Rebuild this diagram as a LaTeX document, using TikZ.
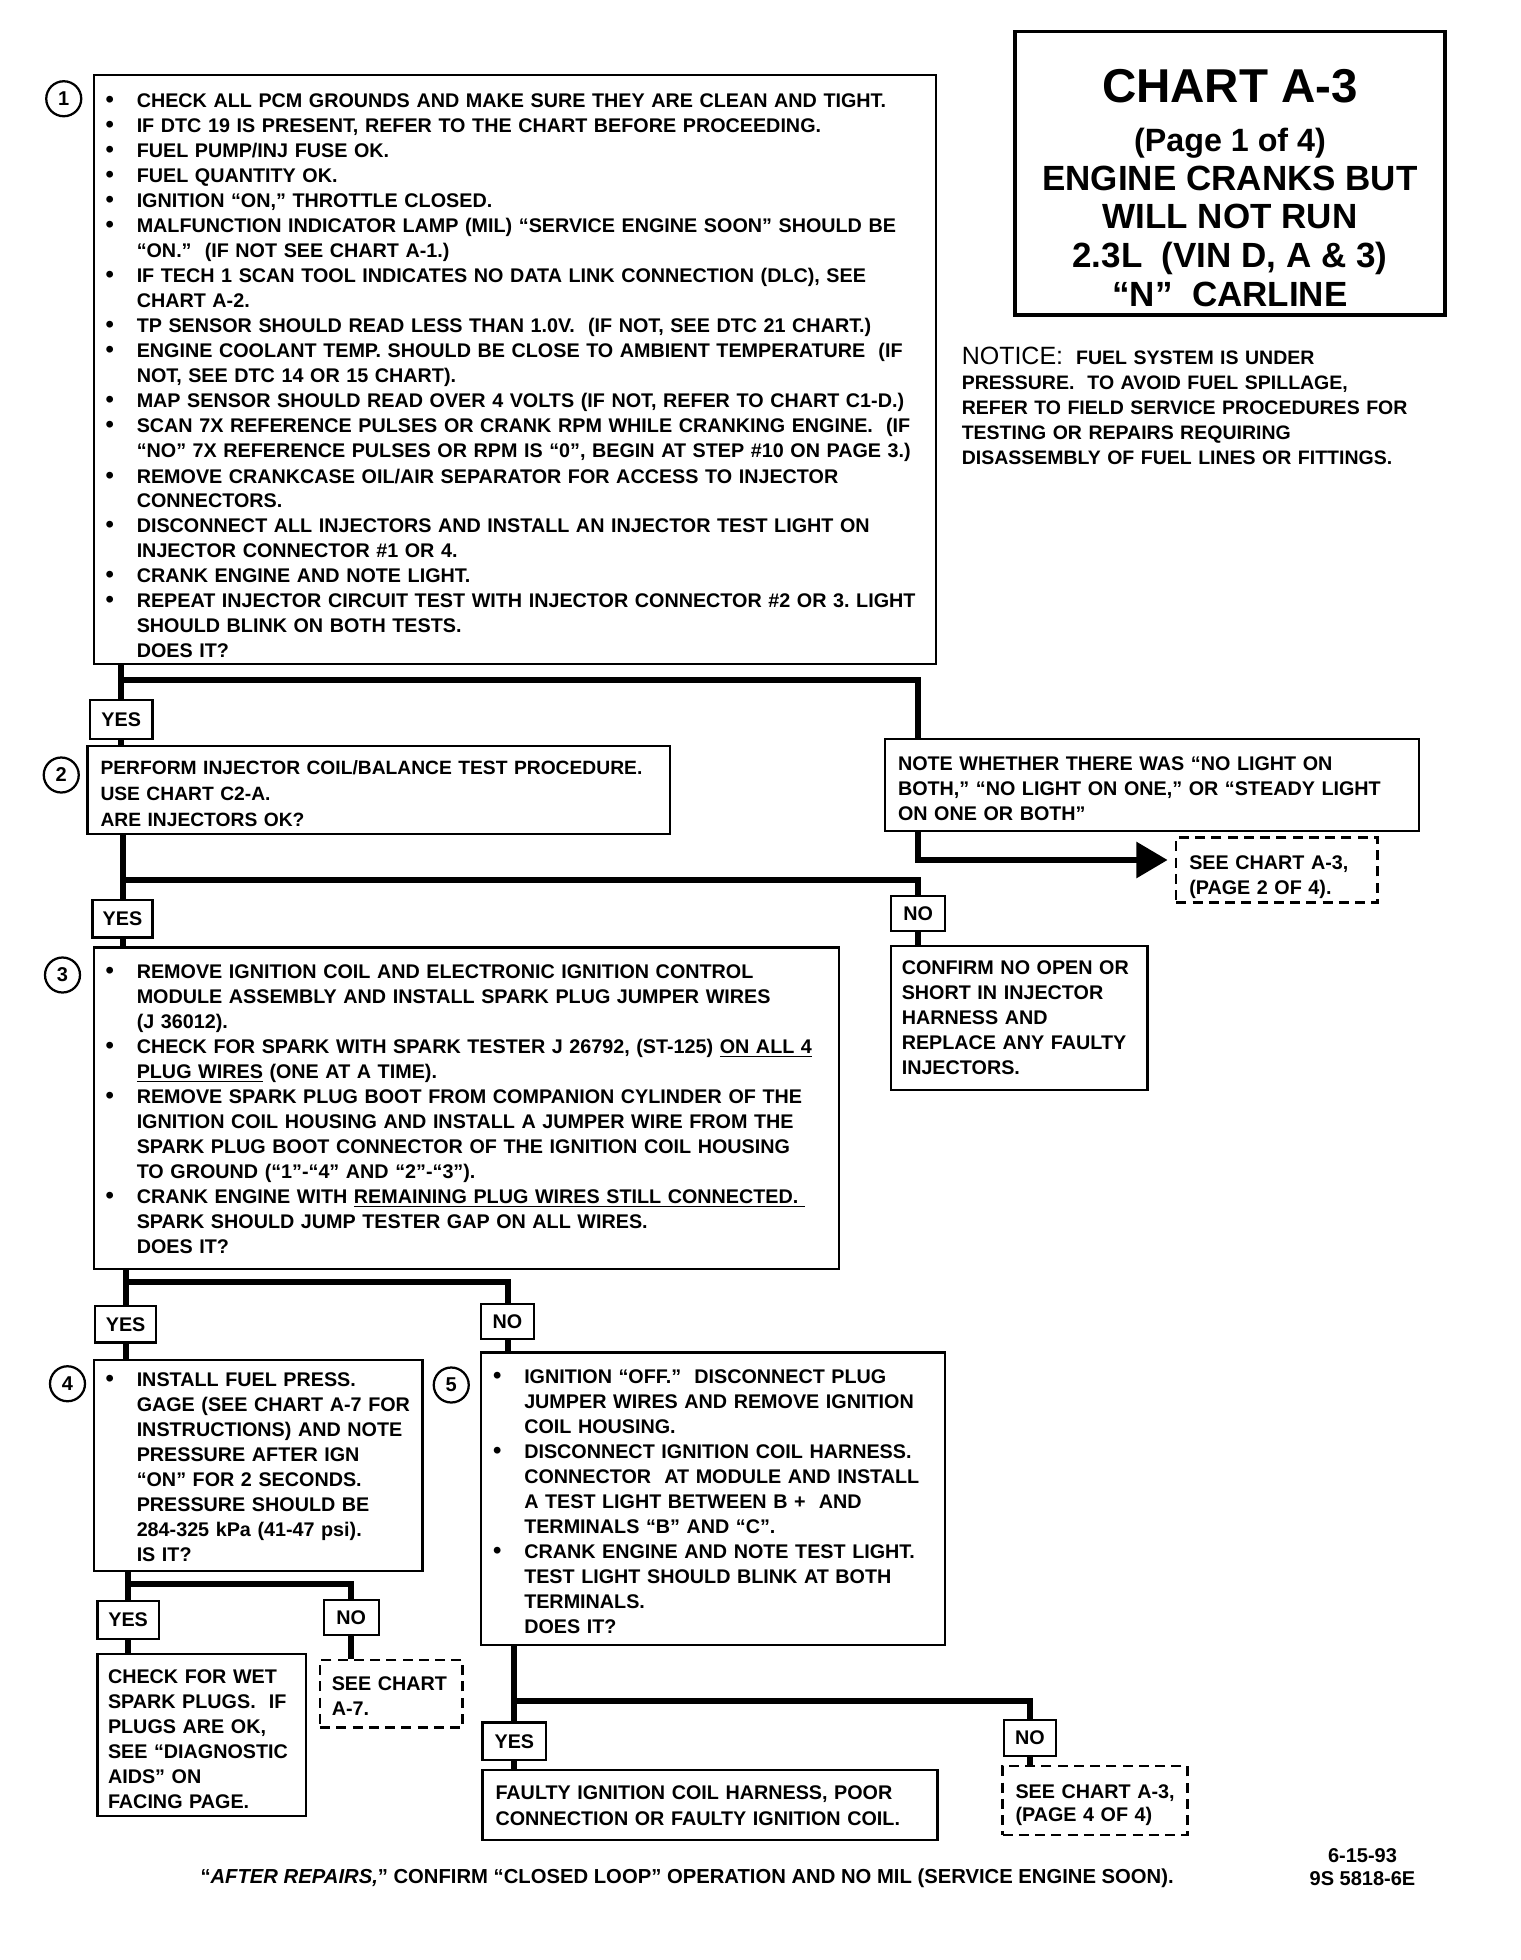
\documentclass[tikz,border=0pt]{standalone}
\usepackage{fontspec}
\setmainfont{Liberation Sans}
\usetikzlibrary{fit,arrows.meta,calc}
\newcommand{\bl}{\makebox[12.5pt][l]{\fontsize{9.5}{9.5}\selectfont\textbullet}}
\newcommand{\ct}{\hspace*{12.5pt}}
\newcommand{\fs}{\rule{0pt}{7pt}}
\frenchspacing
\begin{document}
\frenchspacing
\begin{tikzpicture}[x=0.5pt,y=-0.5pt,
  box/.style={draw, line width=0.9pt, inner sep=0pt},
  dbox/.style={draw, line width=0.9pt, inner sep=0pt, dash pattern=on 4pt off 2.5pt},
  lbl/.style={draw, line width=0.9pt, inner sep=0pt, font=\fontsize{7.9}{10}\selectfont\bfseries},
  txt/.style={anchor=north west, inner sep=0pt, text width=380pt, align=left, font=\fontsize{7.9}{10}\selectfont\bfseries},
  conn/.style={line width=2.4pt, line join=miter},
  num/.style={circle, draw, line width=0.9pt, minimum size=14pt, inner sep=0pt, font=\fontsize{8}{8}\selectfont\bfseries},
  ttl/.style={anchor=base, inner sep=0pt}]
\useasboundingbox (0,0) rectangle (1216,1568);

% ---------- boxes ----------
\node[box, fit={(75,60) (749,531)}] (b1) {};
\node[box, fit={(70,597) (536,667)}] (b2) {};
\node[box, fit={(708,591) (1135,665)}] (note) {};
\node[dbox, fit={(941,670) (1102,722)}] (see2) {};
\node[box, fit={(713,757) (918,872)}] (confirm) {};
\node[box, fit={(75,758) (671,1015)}] (b3) {};
\node[box, fit={(75,1088) (338,1257)}] (b4) {};
\node[box, fit={(385,1082) (756,1316)}] (b5) {};
\node[box, fit={(78,1323) (245,1453)}] (check) {};
\node[dbox, fit={(256,1328) (370,1382)}] (see7) {};
\node[box, fit={(386,1416) (750,1472)}] (faulty) {};
\node[dbox, fit={(802,1413) (950,1468)}] (see4) {};
\node[box, line width=1.3pt, fit={(812,25) (1156,252)}] (title) {};

% ---------- yes / no labels ----------
\node[lbl, minimum width=25pt, minimum height=15.5pt] (yes1) at (97,575.5) {YES};
\node[lbl, minimum width=24pt, minimum height=15pt] (yes2) at (98,735) {YES};
\node[lbl, minimum width=21.5pt, minimum height=14pt] (no1) at (734.5,731) {NO};
\node[lbl, minimum width=24.5pt, minimum height=14.5pt] (yes3) at (100.5,1059.5) {YES};
\node[lbl, minimum width=21pt, minimum height=14pt] (no2) at (406,1057) {NO};
\node[lbl, minimum width=24.5pt, minimum height=15pt] (yes4) at (102.5,1296) {YES};
\node[lbl, minimum width=22pt, minimum height=14pt] (no3) at (281,1294) {NO};
\node[lbl, minimum width=25.5pt, minimum height=15pt] (yes5) at (411.5,1393) {YES};
\node[lbl, minimum width=21pt, minimum height=14.5pt] (no4) at (824,1390.5) {NO};

% ---------- step numbers ----------
\node[num] (n1) at (51,79) {1};
\node[num] (n2) at (49,620) {2};
\node[num] (n3) at (50,780) {3};
\node[num] (n4) at (54,1107) {4};
\node[num] (n5) at (361,1108) {5};

% ---------- connectors ----------
\path (yes1.north) ++(0,-15) coordinate (j1);
\draw[conn] (b1.south -| yes1.north) -- (yes1.north);
\draw[conn] (j1) -| ([xshift=13.5pt]note.north west);
\draw[conn] (yes1.south) -- (yes1.south |- b2.north);
\draw[conn] (b2.south -| yes2.north) -- (yes2.north);
\path (yes2.north) ++(0,-15) coordinate (j2);
\draw[conn] (j2) -| (no1.north);
\draw[conn] (no1.south) -- (no1.south |- confirm.north);
\draw[conn, -{Triangle[length=12.5pt,width=14pt]}, shorten >=3pt]
  ([xshift=13.5pt]note.south west) |- ([yshift=4pt]see2.west);
\draw[conn] (yes2.south) -- (yes2.south |- b3.north);
\draw[conn] (b3.south -| yes3.north) -- (yes3.north);
\path (b3.south -| yes3.north) ++(0,10) coordinate (j3);
\draw[conn] (j3) -| (no2.north);
\draw[conn] (yes3.south) -- (yes3.south |- b4.north);
\draw[conn] (no2.south) -- (no2.south |- b5.north);
\draw[conn] (b4.south -| yes4.north) -- (yes4.north);
\path (b4.south -| yes4.north) ++(0,9) coordinate (j4);
\draw[conn] (j4) -| (no3.north);
\draw[conn] (yes4.south) -- (yes4.south |- check.north);
\draw[conn] (no3.south) -- (no3.south |- see7.north);
\draw[conn] (b5.south -| yes5.north) -- (yes5.north);
\path (yes5.north) ++(0,-16) coordinate (j5);
\draw[conn] (j5) -| (no4.north);
\draw[conn] (yes5.south) -- (yes5.south |- faulty.north);
\draw[conn] (no4.south) -- (no4.south |- see4.north);

% ---------- texts ----------
\node[txt] (t1) at (84,72) {\fs\bl CHECK ALL PCM GROUNDS AND MAKE SURE THEY ARE CLEAN AND TIGHT.\\
\bl IF DTC 19 IS PRESENT, REFER TO THE CHART BEFORE PROCEEDING.\\
\bl FUEL PUMP/INJ FUSE OK.\\
\bl FUEL QUANTITY OK.\\
\bl IGNITION “ON,” THROTTLE CLOSED.\\
\bl MALFUNCTION INDICATOR LAMP (MIL) “SERVICE ENGINE SOON” SHOULD BE\\
\ct “ON.”\ \ (IF NOT SEE CHART A-1.)\\
\bl IF TECH 1 SCAN TOOL INDICATES NO DATA LINK CONNECTION (DLC), SEE\\
\ct CHART A-2.\\
\bl TP SENSOR SHOULD READ LESS THAN 1.0V.\ \ (IF NOT, SEE DTC 21 CHART.)\\
\bl ENGINE COOLANT TEMP. SHOULD BE CLOSE TO AMBIENT TEMPERATURE\ \ (IF\\
\ct NOT, SEE DTC 14 OR 15 CHART).\\
\bl MAP SENSOR SHOULD READ OVER 4 VOLTS (IF NOT, REFER TO CHART C1-D.)\\
\bl SCAN 7X REFERENCE PULSES OR CRANK RPM WHILE CRANKING ENGINE.\ \ (IF\\
\ct “NO” 7X REFERENCE PULSES OR RPM IS “0”, BEGIN AT STEP \#10 ON PAGE 3.)\\
\bl REMOVE CRANKCASE OIL/AIR SEPARATOR FOR ACCESS TO INJECTOR\\
\ct CONNECTORS.\\
\bl DISCONNECT ALL INJECTORS AND INSTALL AN INJECTOR TEST LIGHT ON\\
\ct INJECTOR CONNECTOR \#1 OR 4.\\
\bl CRANK ENGINE AND NOTE LIGHT.\\
\bl REPEAT INJECTOR CIRCUIT TEST WITH INJECTOR CONNECTOR \#2 OR 3. LIGHT\\
\ct SHOULD BLINK ON BOTH TESTS.\\
\ct DOES IT?};

\node[txt, font=\fontsize{7.7}{10.5}\selectfont\bfseries] (t2) at (80,605) {\fs PERFORM INJECTOR COIL/BALANCE TEST PROCEDURE.\\
USE CHART C2-A.\\
ARE INJECTORS OK?};

\node[txt] (tnote) at (718,602) {\fs NOTE WHETHER THERE WAS “NO LIGHT ON\\
BOTH,” “NO LIGHT ON ONE,” OR “STEADY LIGHT\\
ON ONE OR BOTH”};

\node[txt] (tsee2) at (951,681) {\fs SEE CHART A-3,\\ (PAGE 2 OF 4).};

\node[txt] (tconfirm) at (721,765) {\fs CONFIRM NO OPEN OR\\
SHORT IN INJECTOR\\
HARNESS AND\\
REPLACE ANY FAULTY\\
INJECTORS.};

\node[txt] (t3) at (84,768) {\fs\bl REMOVE IGNITION COIL AND ELECTRONIC IGNITION CONTROL\\
\ct MODULE ASSEMBLY AND INSTALL SPARK PLUG JUMPER WIRES\\
\ct (J 36012).\\
\bl CHECK FOR SPARK WITH SPARK TESTER J 26792, (ST-125) \underline{ON ALL 4}\\
\ct \underline{PLUG WIRES} (ONE AT A TIME).\\
\bl REMOVE SPARK PLUG BOOT FROM COMPANION CYLINDER OF THE\\
\ct IGNITION COIL HOUSING AND INSTALL A JUMPER WIRE FROM THE\\
\ct SPARK PLUG BOOT CONNECTOR OF THE IGNITION COIL HOUSING\\
\ct TO GROUND (“1”-“4” AND “2”-“3”).\\
\bl CRANK ENGINE WITH \underline{REMAINING PLUG WIRES STILL CONNECTED.\ }\\
\ct SPARK SHOULD JUMP TESTER GAP ON ALL WIRES.\\
\ct DOES IT?};

\node[txt] (t4) at (84,1095) {\fs\bl INSTALL FUEL PRESS.\\
\ct GAGE (SEE CHART A-7 FOR\\
\ct INSTRUCTIONS) AND NOTE\\
\ct PRESSURE AFTER IGN\\
\ct “ON” FOR 2 SECONDS.\\
\ct PRESSURE SHOULD BE\\
\ct 284-325 kPa (41-47 psi).\\
\ct IS IT?};

\node[txt] (t5) at (394,1092) {\fs\bl IGNITION “OFF.”\ \ DISCONNECT PLUG\\
\ct JUMPER WIRES AND REMOVE IGNITION\\
\ct COIL HOUSING.\\
\bl DISCONNECT IGNITION COIL HARNESS.\\
\ct CONNECTOR\ \ AT MODULE AND INSTALL\\
\ct A TEST LIGHT BETWEEN B +\ \ AND\\
\ct TERMINALS “B” AND “C”.\\
\bl CRANK ENGINE AND NOTE TEST LIGHT.\\
\ct TEST LIGHT SHOULD BLINK AT BOTH\\
\ct TERMINALS.\\
\ct DOES IT?};

\node[txt] (tcheck) at (86,1332) {\fs CHECK FOR WET\\
SPARK PLUGS.\ \ IF\\
PLUGS ARE OK,\\
SEE “DIAGNOSTIC\\
AIDS” ON\\
FACING PAGE.};

\node[txt] (tsee7) at (265,1338) {\fs SEE CHART\\ A-7.};

\node[txt, font=\fontsize{7.9}{10.5}\selectfont\bfseries] (tfaulty) at (396,1425) {\fs FAULTY IGNITION COIL HARNESS, POOR\\
CONNECTION OR FAULTY IGNITION COIL.};

\node[txt, font=\fontsize{7.9}{9.5}\selectfont\bfseries] (tsee4) at (812,1424) {\fs SEE CHART A-3,\\ (PAGE 4 OF 4)};

% ---------- title ----------
\node[ttl, font=\fontsize{19}{19}\selectfont\bfseries] (tl1) at (984,82) {CHART A-3};
\node[ttl, font=\fontsize{12.9}{13}\selectfont\bfseries] (tl2) at (984,121) {(Page 1 of 4)};
\node[ttl, font=\fontsize{14}{14}\selectfont\bfseries] (tl3) at (984,152) {ENGINE CRANKS BUT};
\node[ttl, font=\fontsize{14}{14}\selectfont\bfseries] (tl4) at (984,183) {WILL NOT RUN};
\node[ttl, font=\fontsize{14}{14}\selectfont\bfseries] (tl5) at (984,214) {2.3L\ \ (VIN D, A \& 3)};
\node[ttl, font=\fontsize{14}{14}\selectfont\bfseries] (tl6) at (984,245) {“N”\ \ CARLINE};

% ---------- notice ----------
\node[txt, font=\fontsize{7.8}{10}\selectfont\bfseries] (notice) at (769,277) {\fs{\fontsize{10}{10}\selectfont\mdseries NOTICE:}\ \ FUEL SYSTEM IS UNDER\\
PRESSURE.\ \ TO AVOID FUEL SPILLAGE,\\
REFER TO FIELD SERVICE PROCEDURES FOR\\
TESTING OR REPAIRS REQUIRING\\
DISASSEMBLY OF FUEL LINES OR FITTINGS.};

% ---------- footer ----------
\node[anchor=base west, inner sep=0pt, font=\fontsize{8.1}{10}\selectfont\bfseries] (foot) at (160,1507)
  {“\textit{AFTER REPAIRS,}” CONFIRM “CLOSED LOOP” OPERATION AND NO MIL (SERVICE ENGINE SOON).};
\node[anchor=base, inner sep=0pt, font=\fontsize{8}{10}\selectfont\bfseries] (date) at (1090,1490) {6-15-93};
\node[anchor=base, inner sep=0pt, font=\fontsize{8}{10}\selectfont\bfseries] (code) at (1090,1508) {9S 5818-6E};
\end{tikzpicture}
\end{document}
